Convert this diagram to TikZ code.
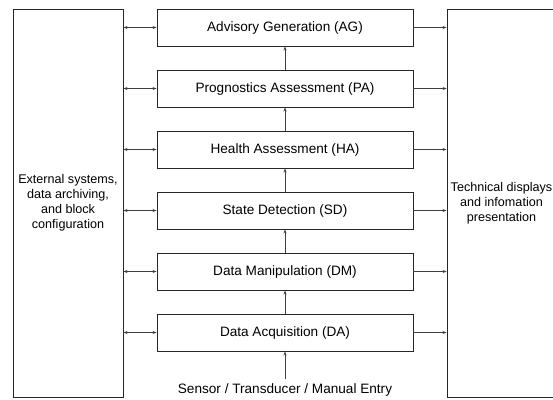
\documentclass[tikz,border=0pt]{standalone}
\usepackage{fontspec}
\setmainfont{Liberation Sans}
\usetikzlibrary{arrows.meta, positioning}

\begin{document}
\begin{tikzpicture}[x=1pt, y=-1pt,
		block/.style={rectangle, draw=black!85, line width=0.9pt, minimum width=256pt, minimum height=37pt, inner sep=0pt, font=\fontsize{13.6}{16}\selectfont},
		side/.style={rectangle, draw=black!85, line width=0.9pt, minimum height=388pt, inner sep=0pt, align=center, font=\fontsize{12.6}{15}\selectfont},
		arrow/.style={-{Stealth[length=4pt, width=3pt]}, line width=0.6pt, black!75},
		biarrow/.style={{Stealth[length=4pt, width=3pt]}-{Stealth[length=4pt, width=3pt]}, line width=0.6pt, black!75}
		]
		\useasboundingbox (0,0) rectangle (553,399);
		
		% Blocs centraux (de bas en haut)
		\foreach \name/\txt [count=\i] in {DA/Data Acquisition (DA), DM/Data Manipulation (DM), SD/State Detection (SD), HA/Health Assessment (HA), PA/Prognostics Assessment (PA), AG/Advisory Generation (AG)} {
			\node[block] (\name) at (285, 332.5-61*\i+61) {\txt};
		}
		
		% Blocs lateraux
		\node[side, minimum width=110pt] (ext) at (68,203) {External systems,\\data archiving,\\and block\\configuration};
		\node[side, minimum width=109pt] (disp) at (501.5,203) {Technical displays\\and infomation\\presentation};
		
		% Entree capteurs
		\node[font=\fontsize{13.6}{16}\selectfont, inner sep=1pt] (sensor) at (285,390) {Sensor / Transducer / Manual Entry};
		
		% Connexions
		\foreach \name in {DA, DM, SD, HA, PA, AG} {
			\draw[biarrow] (ext.east |- \name.west) -- (\name.west);
			\draw[arrow] (\name.east) -- (disp.west |- \name.east);
		}
		\foreach \a/\b in {DA/DM, DM/SD, SD/HA, HA/PA, PA/AG} {
			\draw[arrow] (\a.north) -- (\b.south);
		}
		\draw[arrow] ([yshift=3pt]sensor.north) -- (DA.south);
		
\end{tikzpicture}
\end{document}
